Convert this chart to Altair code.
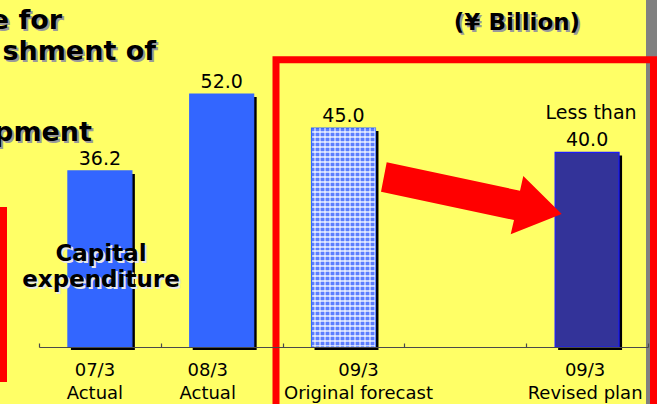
import altair as alt
import pandas as pd

# Capital expenditure by fiscal year-end (¥ billion)
periods = ["07/3", "08/3", "09/3", "09/3"]
plans = ["Actual", "Actual", "Original forecast", "Revised plan"]
capex = [36.2, 52.0, 45.0, 40.0]
qualifiers = ["", "", "", "Less than"]

title_lines = ["e for", "shment of", "pment"]
unit_label = "(¥ Billion)"
series_label = "Capital\nexpenditure"

keys = [f"{p}\n{k}" for p, k in zip(periods, plans)]
spacer = " "
x_domain = keys[:3] + [spacer] + keys[3:]

df = pd.DataFrame({"key": keys, "period": periods, "plan": plans,
                   "capex": capex, "qualifier": qualifiers})
one = pd.DataFrame({"n": [0]})

FONT = "DejaVu Sans"
YELLOW = "#FFFF66"
RED = "#FF0000"
BAR_WIDTH = alt.RelativeBandSize(0.525)

x = alt.X("key:N", sort=None,
          scale=alt.Scale(domain=x_domain, paddingInner=0, paddingOuter=0),
          axis=alt.Axis(orient="top", offset=-347, labels=False, title=None,
                        tickBand="extent", tickSize=4, grid=False, zindex=1,
                        domainColor="#4a4a4a", tickColor="#4a4a4a",
                        domainWidth=1.2, tickWidth=1.2))
y = alt.Y("capex:Q", scale=alt.Scale(domain=[0, 71.34], nice=False, zero=True), axis=None)

base = alt.Chart(df)
note = alt.Chart(one)

# slide furniture: grey edge strip, red side bar, red highlight frame
strip = note.mark_rect(color="#808080").encode(
    x=alt.value(607), x2=alt.value(620), y=alt.value(0), y2=alt.value(420))
side_bar = note.mark_rect(color=RED).encode(
    x=alt.value(-40), x2=alt.value(-32), y=alt.value(207), y2=alt.value(382))
frame = note.mark_rect(fillOpacity=0, stroke=RED, strokeWidth=7).encode(
    x=alt.value(237), x2=alt.value(614.5), y=alt.value(59.7), y2=alt.value(440))

# drop shadows behind the bars
shadows = base.mark_bar(color="black", width=BAR_WIDTH, xOffset=3, yOffset=3,
                        y2Offset=0).encode(x=x, y=y)

solid_bars = base.transform_filter(
    alt.datum.plan != "Original forecast"
).mark_bar(strokeWidth=1.2, width=BAR_WIDTH).encode(
    x=x, y=y,
    fill=alt.Fill("plan:N", legend=None,
                  scale=alt.Scale(domain=["Actual", "Revised plan"],
                                  range=["#3366FF", "#333399"])),
    stroke=alt.Stroke("plan:N", legend=None,
                      scale=alt.Scale(domain=["Actual", "Revised plan"],
                                      range=["#3366FF", "#1A1AFF"])),
)


def stripes(n, on, off, frac, vertical):
    stops = []
    for i in range(n):
        a, b, c = i / n, (i + frac) / n, (i + 1) / n
        stops += [alt.GradientStop(color=on, offset=a), alt.GradientStop(color=on, offset=b),
                  alt.GradientStop(color=off, offset=b), alt.GradientStop(color=off, offset=c)]
    if vertical:
        return alt.LinearGradient(gradient="linear", stops=stops, x1=0, x2=1, y1=0, y2=0)
    return alt.LinearGradient(gradient="linear", stops=stops, x1=0, x2=0, y1=0, y2=1)


# cross-hatched forecast bar: horizontal bands with a light vertical overlay
forecast = base.transform_filter(alt.datum.plan == "Original forecast")
hatch_h = forecast.mark_bar(fill=stripes(44, "#5C7EFF", "#C4D2FF", 0.6, False),
                            width=BAR_WIDTH, stroke="#3366FF",
                            strokeWidth=1.2).encode(x=x, y=y)
hatch_v = forecast.mark_bar(fill=stripes(13, "rgba(255,255,255,0)", "rgba(255,255,255,0.5)", 0.6, True),
                            width=BAR_WIDTH, strokeOpacity=0).encode(x=x, y=y)

value_labels = base.mark_text(
    font=FONT, fontSize=19, baseline="alphabetic", dy=-6, color="black"
).encode(x=x, y=y, text=alt.Text("capex:Q", format=".1f"))
qualifier_labels = base.transform_filter(alt.datum.qualifier != "").mark_text(
    font=FONT, fontSize=19, baseline="alphabetic", dy=-33, dx=4, color="black"
).encode(x=x, y=y, text="qualifier:N")

# category labels under the axis, each nudged slightly as laid out on the slide
nudges = {keys[0]: -5, keys[1]: -14, keys[2]: 15, keys[3]: -2}
cat_labels = [
    base.transform_filter(alt.datum.key == k).mark_text(
        font=FONT, fontSize=18, baseline="alphabetic", lineBreak="\n", lineHeight=23,
        color="black", dx=d).encode(x=x, y=alt.value(376), text="key:N")
    for k, d in nudges.items()
]

arrow_path = ("M347.7,162.3 L481,190.7 L484.3,176 L522.7,214 "
              "L471.7,234.3 L475,220 L342,191.7 Z")
arrow = note.mark_point(shape=arrow_path, size=4, filled=True, fill=RED,
                        opacity=1, strokeWidth=0).encode(x=alt.value(0), y=alt.value(0))


def shadowed(text, px, py, size, align, shade, off=2, line_height=None):
    layers = []
    for color, d in ((shade, off), ("black", 0)):
        kw = dict(font=FONT, fontSize=size, fontWeight="bold", align=align,
                  baseline="alphabetic", color=color, dx=d, dy=d, lineBreak="\n")
        if line_height:
            kw["lineHeight"] = line_height
        layers.append(note.mark_text(**kw).encode(
            x=alt.value(px), y=alt.value(py), text=alt.value(text)))
    return layers


titles = []
for line, (px, py) in zip(title_lines, [(23, 29), (117, 60), (53, 141)]):
    titles += shadowed(line, px, py, 27, "right", "#9A9A9A")
titles += shadowed(unit_label, 478, 30, 23, "center", "#9A9A9A")
titles += shadowed(series_label, 62, 261, 23, "center", "#E8E8E8", off=2, line_height=26)

chart = alt.layer(
    strip, side_bar, frame, shadows, solid_bars, hatch_h, hatch_v,
    value_labels, qualifier_labels, *cat_labels, arrow, *titles
).properties(
    width=609, height=347, background=YELLOW,
    padding={"left": 39, "right": 9, "top": 0, "bottom": 57},
    autosize=alt.AutoSizeParams(type="none"),
).configure_view(stroke=None)

chart.save("out.html", embed_options={"renderer": "svg", "actions": False})
